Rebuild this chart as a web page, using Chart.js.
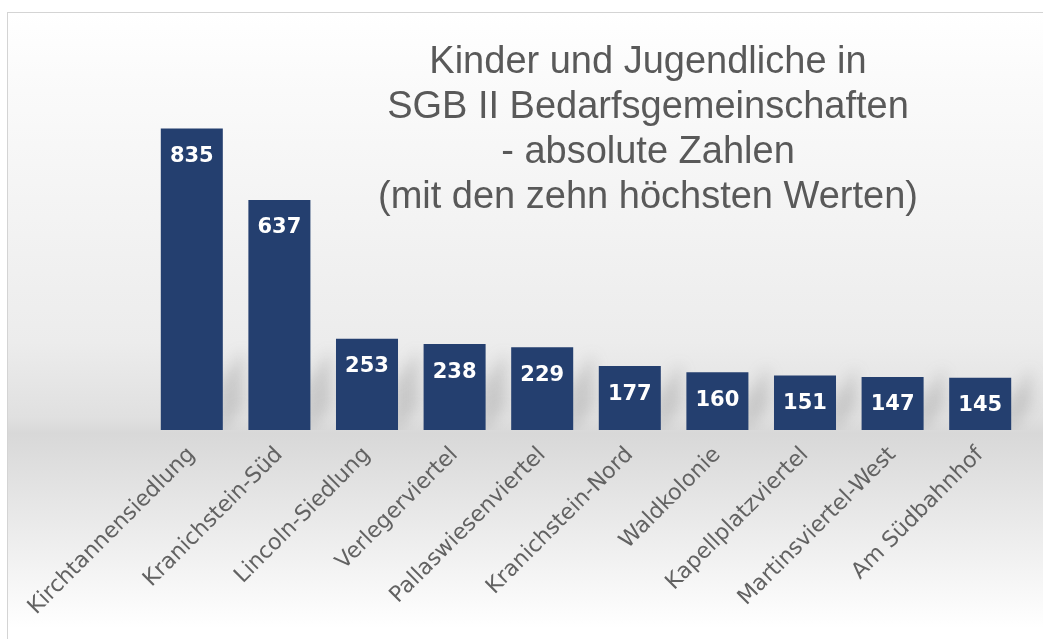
<!DOCTYPE html>
<html>
<head>
<meta charset="utf-8">
<script src="https://cdn.jsdelivr.net/npm/chart.js@4.4.1/dist/chart.umd.min.js"></script>
<style>
  html, body { margin: 0; padding: 0; background: #fff; }
  #wrap {
    position: absolute; left: 7px; top: 12px; width: 1036px; height: 627px;
    border-left: 1px solid #d4d4d4; border-top: 1px solid #d4d4d4;
    background: linear-gradient(to bottom, #ffffff 0px, #fbfbfb 60px, #ececec 330px, #e0e0e0 405px, #d8d8d8 420px, #dedede 450px, #ececec 520px, #fafafa 590px, #ffffff 615px);
  }
  #title {
    position: absolute; left: 7px; top: 12px; width: 1282px; text-align: center;
    font-family: "Liberation Sans", Arial, sans-serif; font-size: 38px; line-height: 45px;
    color: #595959; padding-top: 26px;
  }
  canvas { position: absolute; left: 0; top: 0; }
</style>
</head>
<body>
<div id="wrap"></div>
<canvas id="chart" width="1043" height="639"></canvas>
<div id="title">Kinder und Jugendliche in<br>SGB II Bedarfsgemeinschaften<br>- absolute Zahlen<br>(mit den zehn höchsten Werten)</div>
<script>
const categories = ['Kirchtannensiedlung', 'Kranichstein-Süd', 'Lincoln-Siedlung', 'Verlegerviertel', 'Pallaswiesenviertel',
  'Kranichstein-Nord', 'Waldkolonie', 'Kapellplatzviertel', 'Martinsviertel-West', 'Am Südbahnhof'];
const values = [835, 637, 253, 238, 229, 177, 160, 151, 147, 145];

// soft shadow cast on the back wall, behind each bar
const barShadows = {
  id: 'barShadows',
  beforeDatasetsDraw(chart) {
    const ctx = chart.ctx;
    const meta = chart.getDatasetMeta(0);
    ctx.save();
    ctx.beginPath();
    ctx.rect(0, 0, chart.width, chart.chartArea.bottom);
    ctx.clip();
    ctx.filter = 'blur(7px)';
    ctx.fillStyle = 'rgba(120,120,120,0.25)';
    meta.data.forEach(function(bar) {
      const right = bar.x + bar.width / 2;
      const bottom = bar.base;
      const h = Math.min(bottom - bar.y, 90);
      ctx.beginPath();
      ctx.moveTo(right - 4, bottom + 6);
      ctx.lineTo(right - 4, bottom - h * 0.5);
      ctx.lineTo(right + 20, bottom - h * 0.5 - 35);
      ctx.lineTo(right + 20, bottom - 25);
      ctx.closePath();
      ctx.fill();
    });
    ctx.restore();
  }
};

const valueLabels = {
  id: 'valueLabels',
  afterDatasetsDraw(chart) {
    const ctx = chart.ctx;
    const meta = chart.getDatasetMeta(0);
    ctx.save();
    ctx.fillStyle = '#ffffff';
    ctx.font = 'bold 21px "DejaVu Sans", sans-serif';
    ctx.textAlign = 'center';
    ctx.textBaseline = 'middle';
    meta.data.forEach(function(bar, i) {
      ctx.fillText(String(values[i]), bar.x, bar.y + 28);
    });
    ctx.restore();
  }
};

const ctx = document.getElementById('chart').getContext('2d');
const chart = new Chart(ctx, {
  type: 'bar',
  data: {
    labels: categories,
    datasets: [{
      data: values,
      backgroundColor: '#243f6f',
      borderWidth: 0,
      barPercentage: 0.708,
      categoryPercentage: 1
    }]
  },
  options: {
    responsive: false,
    animation: false,
    layout: { padding: { left: 148, right: 19, top: 40, bottom: 0 } },
    plugins: { legend: { display: false }, tooltip: { enabled: false } },
    scales: {
      x: {
        grid: { display: false },
        border: { display: false },
        ticks: {
          color: '#626262',
          font: { family: '"DejaVu Sans", sans-serif', size: 22 },
          minRotation: 45,
          maxRotation: 45,
          padding: 4
        },
        afterFit: function(scale) { scale.height = 209; }
      },
      y: {
        display: false,
        min: 0,
        max: 1080
      }
    }
  },
  plugins: [barShadows, valueLabels]
});
</script>
</body>
</html>
